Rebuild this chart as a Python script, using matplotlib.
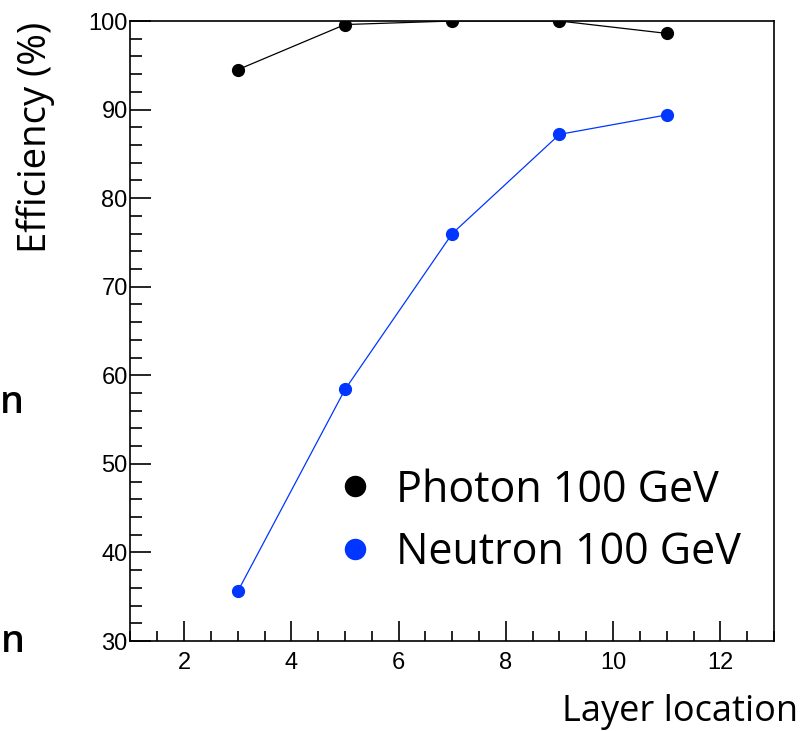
import matplotlib.pyplot as plt
from matplotlib.ticker import MultipleLocator

# data
layers = [3, 5, 7, 9, 11]
photon_eff = [94.5, 99.6, 100.0, 100.0, 98.6]
neutron_eff = [35.6, 58.4, 76.0, 87.2, 89.4]
series_labels = ["Photon 100 GeV", "Neutron 100 GeV"]

W, H = 804, 731
fig = plt.figure(figsize=(W / 100, H / 100), dpi=100)
ax = fig.add_axes([130.5 / W, (H - 641) / H, 643.5 / W, 620 / H])

blue = "#0036ff"
ax.plot(layers, photon_eff, color="black", lw=0.9, zorder=2)
ax.plot(layers, neutron_eff, color=blue, lw=0.9, zorder=2)
ax.plot(layers, photon_eff, ls="none", marker="o", ms=8.5, color="black",
        label=series_labels[0], zorder=3)
ax.plot(layers, neutron_eff, ls="none", marker="o", ms=8.5, color=blue,
        label=series_labels[1], zorder=3)

ax.set_xlim(1, 13)
ax.set_ylim(30, 100)
ax.xaxis.set_major_locator(MultipleLocator(2))
ax.xaxis.set_minor_locator(MultipleLocator(0.5))
ax.yaxis.set_major_locator(MultipleLocator(10))
ax.yaxis.set_minor_locator(MultipleLocator(2))

for s in ax.spines.values():
    s.set_linewidth(1.2)
ax.tick_params(which="both", direction="in", top=False, right=False, width=1.2)
ax.tick_params(axis="x", which="major", length=14.4, pad=8)
ax.tick_params(axis="x", which="minor", length=7.5)
ax.tick_params(axis="y", which="major", length=15, pad=2)
ax.tick_params(axis="y", which="minor", length=8.5)
for lab in ax.get_xticklabels() + ax.get_yticklabels():
    lab.set_fontfamily("Liberation Sans")
    lab.set_fontsize(17)

# axis titles in the slide font
fig.text(798 / W, (H - 721) / H, "Layer location", ha="right", va="baseline",
         fontsize=26, family="Open Sans")
fig.text(36 / W, (H - 22) / H, "Efficiency (%)", ha="center", va="top",
         rotation=90, fontsize=27.5, family="Open Sans")

# text fragments at the left edge of the slide
fig.text(24 / W, (H - 413) / H, "n", ha="right", va="baseline",
         fontsize=27, family="Open Sans", fontweight="semibold")
fig.text(25 / W, (H - 652) / H, "n", ha="right", va="baseline",
         fontsize=27, family="Open Sans", fontweight="semibold")

ax.legend(loc="upper left", bbox_to_anchor=(342 / W, (H - 468) / H),
          bbox_transform=fig.transFigure, frameon=False,
          prop={"family": "Open Sans", "size": 31}, markerscale=1.7,
          handlelength=0.6, handletextpad=0.65, borderpad=0, borderaxespad=0,
          labelspacing=0.42)

fig.savefig("out.png", dpi=100)
